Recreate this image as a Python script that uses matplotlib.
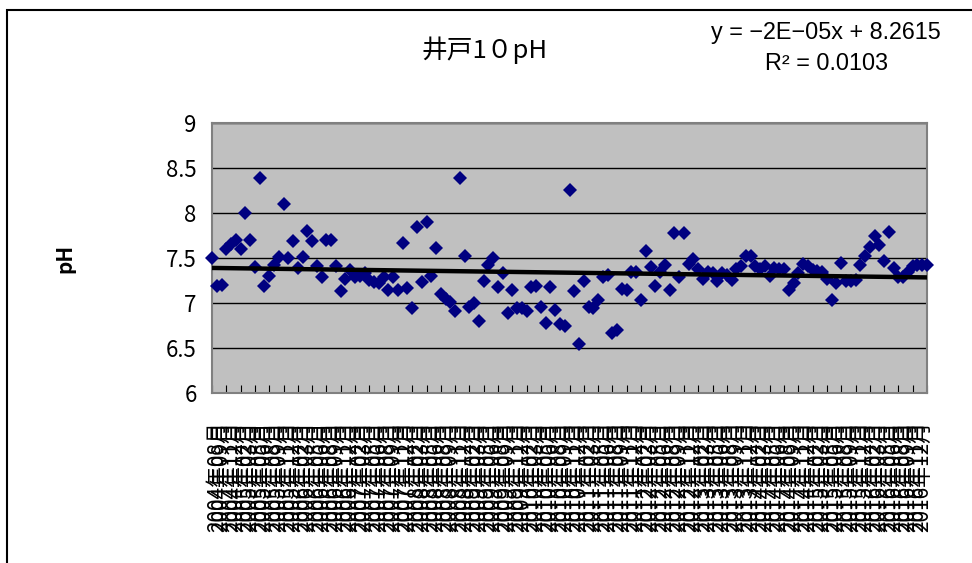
import numpy as np
import pandas as pd
import matplotlib
matplotlib.use("Agg")
import matplotlib.pyplot as plt
from matplotlib.patches import Rectangle

plt.rcParams['font.family'] = ['Noto Sans CJK JP', 'DejaVu Sans']

# Monthly samples, 2004-07 .. 2017-01
months = pd.date_range("2004-07-01", "2017-01-01", freq="MS")
month_labels = [f"{d.year}年{d.month:02d}月" for d in months]

ph_values = [
    7.50, 7.19, 7.20, 7.60, 7.66, 7.70, 7.60, 8.00, 7.70, 7.40,
    8.39, 7.19, 7.30, 7.42, 7.51, 8.10, 7.50, 7.69, 7.39, 7.51,
    7.80, 7.69, 7.41, 7.29, 7.70, 7.70, 7.41, 7.13, 7.27, 7.37,
    7.29, 7.30, 7.33, 7.26, 7.23, 7.22, 7.29, 7.14, 7.29, 7.14,
    7.67, 7.17, 6.95, 7.85, 7.23, 7.90, 7.30, 7.61, 7.10, 7.05,
    7.01, 6.91, 8.39, 7.52, 6.96, 7.00, 6.80, 7.24, 7.42, 7.50,
    7.18, 7.33, 6.89, 7.15, 6.95, 6.95, 6.91, 7.18, 7.19, 6.96,
    6.78, 7.18, 6.92, 6.77, 6.75, 8.26, 7.13, 6.54, 7.24, 6.96,
    6.95, 7.03, 7.29, 7.31, 6.67, 6.70, 7.16, 7.14, 7.34, 7.34,
    7.03, 7.58, 7.40, 7.19, 7.35, 7.42, 7.14, 7.78, 7.29, 7.78,
    7.43, 7.49, 7.38, 7.27, 7.34, 7.33, 7.24, 7.33, 7.31, 7.26,
    7.38, 7.41, 7.52, 7.52, 7.41, 7.38, 7.41, 7.30, 7.39, 7.38,
    7.38, 7.14, 7.22, 7.33, 7.43, 7.41, 7.37, 7.36, 7.35, 7.27,
    7.03, 7.22, 7.45, 7.24, 7.24, 7.26, 7.42, 7.52, 7.62, 7.74,
    7.65, 7.47, 7.79, 7.39, 7.29, 7.29, 7.34, 7.41, 7.42, 7.42,
    7.42,
]

title_text = "井戸1０pH"
equation_text = "y = −2E−05x + 8.2615"
r2_text = "R² = 0.0103"

W, H = 972, 563
fig = plt.figure(figsize=(W / 100, H / 100), dpi=100)
fig.patch.set_facecolor("white")

# outer chart frame
fig.patches.append(Rectangle((7 / W, -0.2), 1.2, 1.2 - 10 / H,
                             transform=fig.transFigure, fill=False,
                             edgecolor="black", linewidth=1.5))

left, right, top, bottom = 212, 927, 123, 393
ax = fig.add_axes([left / W, 1 - bottom / H, (right - left) / W, (bottom - top) / H])
ax.set_facecolor("#C0C0C0")

idx = np.arange(len(ph_values))
ax.plot(idx, ph_values, linestyle="none", marker="D", markersize=7.3,
        markerfacecolor="#000080", markeredgewidth=0, clip_on=False, zorder=3)

# linear trend against the date serial
serial = (months - pd.Timestamp("1899-12-30")).days.values.astype(float)
coef = np.polyfit(serial, ph_values, 1)
ax.plot(idx, np.polyval(coef, serial), color="black", linewidth=3.2, zorder=4)

ax.set_xlim(0, len(ph_values) - 1)
ax.set_ylim(6, 9)
ax.set_yticks([6, 6.5, 7, 7.5, 8, 8.5, 9])
ax.set_yticklabels(["6", "6.5", "7", "7.5", "8", "8.5", "9"], fontsize=16)
ax.tick_params(axis="y", length=0, pad=11)
ax.grid(axis="y", color="black", linewidth=1)
ax.set_axisbelow(True)

ax.set_xticks(idx[::3])
ax.set_xticklabels([])
ax.set_xticks(idx, minor=True)
ax.set_xticklabels(month_labels, minor=True, rotation=90, fontsize=15,
                   va="top", ha="center")
ax.tick_params(axis="x", which="major", direction="in", length=6, color="black")
ax.tick_params(axis="x", which="minor", length=0, pad=20)

for s in ax.spines.values():
    s.set_color("#808080")
    s.set_linewidth(1.5)

ax.set_ylabel("pH", fontsize=15, fontweight="bold")
ax.yaxis.set_label_coords((75 - left) / (right - left), 0.5)

fig.text(485 / W, 1 - 50 / H, title_text, ha="center", va="center", fontsize=18.5)
fig.text(826 / W, 1 - 33 / H, equation_text, ha="center", va="center",
         fontsize=16.8, family=["Liberation Sans", "DejaVu Sans"])
fig.text(826 / W, 1 - 64 / H, r2_text, ha="center", va="center",
         fontsize=16.8, family=["Liberation Sans", "DejaVu Sans"])

fig.savefig("out.png", dpi=100)
